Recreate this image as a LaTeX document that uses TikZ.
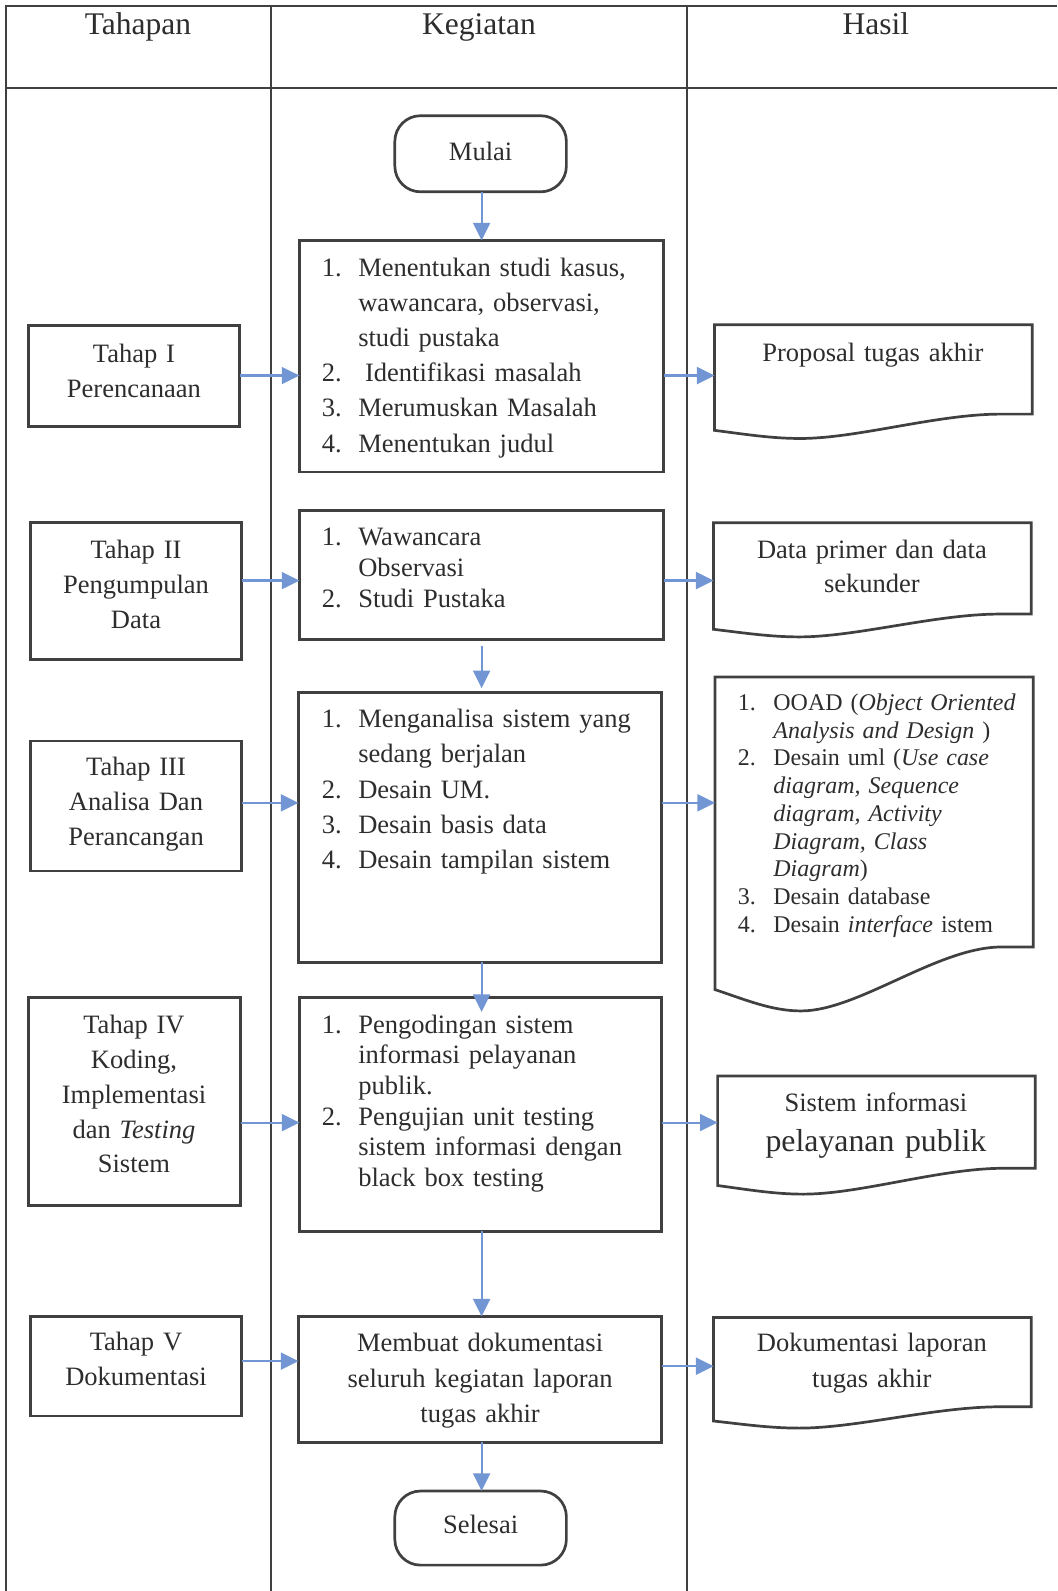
\documentclass[tikz,border=0pt]{standalone}
\usepackage{fontspec}
\setmainfont{Liberation Serif}
\usetikzlibrary{arrows.meta,fit,calc}
\definecolor{textc}{RGB}{45,45,45}
\definecolor{linec}{RGB}{64,64,64}
\definecolor{arrowc}{RGB}{114,150,212}
\newcommand\numbx[1]{\makebox[27pt][l]{#1}}
\newcommand\kin{\hspace*{27pt}}
\newcommand\numbh[1]{\makebox[26.25pt][l]{#1}}
\newcommand\kinh{\hspace*{26.25pt}}
\newcommand\docoutline[2]{%
  \draw[docline] (#1.south east) -- (#1.north east) -- (#1.north west) -- ($(#1.south west)+(0,#2)$)
  .. controls ($(#1.south west)!0.1!(#1.south east)+(0,1.25*#2)$) and ($(#1.south west)!0.18!(#1.south east)+(0,1.5*#2)$) .. ($(#1.south west)!0.27!(#1.south east)+(0,1.5*#2)$)
  .. controls ($(#1.south west)!0.45!(#1.south east)+(0,1.5*#2)$) and ($(#1.south west)!0.7!(#1.south east)$) .. ($(#1.south west)!0.9!(#1.south east)$) -- cycle;}
\begin{document}
\begin{tikzpicture}[x=0.75pt,y=-0.75pt,
  tline/.style={draw=linec,line width=1.3pt},
  boxst/.style={draw=linec,line width=2pt,inner sep=0pt,outer sep=0pt},
  docline/.style={draw=linec,line width=2pt,line join=miter},
  termst/.style={boxst,rounded corners=19pt},
  docarea/.style={inner sep=0pt,outer sep=0pt},
  txt/.style={inner sep=0pt,outer sep=0pt,text=textc,font=\fontsize{19.6}{26}\selectfont},
  ctext/.style={txt,anchor=base,align=center},
  ltext/.style={txt,anchor=base west,align=left,text width=240pt},
  hdtext/.style={txt,anchor=base,font=\fontsize{23.3}{27}\selectfont},
  arr/.style={draw=arrowc,line width=1.6pt,-{Triangle[length=13pt,width=12.5pt]}}
]
\useasboundingbox (0,0) rectangle (1041.4,1567.5);
% table
\draw[tline] (6,1567.5) -- (6,6) -- (1041.4,6);
\draw[tline] (6,87) -- (1041.4,87);
\draw[tline] (267,6) -- (267,1567.5);
\draw[tline] (677,6) -- (677,1567.5);
\node[hdtext] (hd1) at (136,34) {Tahapan};
\node[hdtext] (hd2) at (472,34) {Kegiatan};
\node[hdtext] (hd3) at (863,34) {Hasil};

% Tahapan boxes
\node[boxst,fit={(28,321)(236,420)}] (t1) {};
\node[boxst,fit={(30,515)(238,650)}] (t2) {};
\node[boxst,fit={(30,730)(238,858)}] (t3) {};
\node[boxst,fit={(28,983)(237,1188)}] (t4) {};
\node[boxst,fit={(30,1297)(238,1395)}] (t5) {};
\node[ctext,text width=150pt,font=\fontsize{19.6}{25.8}\selectfont] (t1x) at (132,357) {Tahap I\\Perencanaan};
\node[ctext,text width=150pt,font=\fontsize{19.6}{25.8}\selectfont] (t2x) at (134,550) {Tahap II\\Pengumpulan\\Data};
\node[ctext,text width=150pt,font=\fontsize{19.6}{25.8}\selectfont] (t3x) at (134,764) {Tahap III\\Analisa Dan\\Perancangan};
\node[ctext,text width=150pt,font=\fontsize{19.6}{25.8}\selectfont] (t4x) at (132,1018) {Tahap IV\\Koding,\\Implementasi\\dan \textit{Testing}\\Sistem};
\node[ctext,text width=150pt,font=\fontsize{19.6}{25.8}\selectfont] (t5x) at (134,1331) {Tahap V\\Dokumentasi};

% Kegiatan boxes
\node[termst,fit={(389,114)(558,189)}] (start) {};
\node[ctext] (startx) at (473.5,158) {Mulai};
\node[boxst,fit={(295,237)(654,465)}] (k1) {};
\node[boxst,fit={(295,503)(654,630)}] (k2) {};
\node[boxst,fit={(294,682)(652,948)}] (k3) {};
\node[boxst,fit={(295,983)(652,1213)}] (k4) {};
\node[boxst,fit={(294,1297)(652,1421)}] (k5) {};
\node[termst,fit={(389,1469)(558,1542)}] (stop) {};
\node[ctext] (stopx) at (473.5,1511) {Selesai};

\node[ltext] (k1x) at (317,272) {\numbx{1.}Menentukan studi kasus,\\ \kin wawancara, observasi,\\ \kin studi pustaka\\ \numbx{2.}\hspace{5pt}Identifikasi masalah\\ \numbx{3.}Merumuskan Masalah\\ \numbx{4.}Menentukan judul};
\node[ltext,font=\fontsize{19.6}{23.25}\selectfont] (k2x) at (317,537) {\numbx{1.}Wawancara\\ \kin Observasi\\ \numbx{2.}Studi Pustaka};
\node[ltext] (k3x) at (317,717) {\numbx{1.}Menganalisa sistem yang\\ \kin sedang berjalan\\ \numbx{2.}Desain UM.\\ \numbx{3.}Desain basis data\\ \numbx{4.}Desain tampilan sistem};
\node[ltext,font=\fontsize{19.6}{22.65}\selectfont] (k4x) at (317,1018) {\numbx{1.}Pengodingan sistem\\ \kin informasi pelayanan\\ \kin publik.\\ \numbx{2.}Pengujian unit testing\\ \kin sistem informasi dengan\\ \kin black box testing};
\node[ctext,text width=255pt,font=\fontsize{19.6}{25.9}\selectfont] (k5x) at (473,1332) {Membuat dokumentasi\\seluruh kegiatan laporan\\tugas akhir};

% Hasil documents
\node[docarea,fit={(704,320)(1017,408)}] (h1) {};
\node[docarea,fit={(703,515)(1016,605)}] (h2) {};
\node[docarea,fit={(704.5,667)(1018,933)}] (h3) {};
\node[docarea,fit={(707,1060)(1020,1151)}] (h4) {};
\node[docarea,fit={(703,1298)(1016,1386)}] (h5) {};
\docoutline{h1}{16}
\docoutline{h2}{15}
\docoutline{h3}{42}
\docoutline{h4}{17}
\docoutline{h5}{14}

\node[ctext,text width=230pt] (h1x) at (860,356) {Proposal tugas akhir};
\node[ctext,text width=230pt,font=\fontsize{19.6}{25.5}\selectfont] (h2x) at (859,550) {Data primer dan data\\sekunder};
\node[ltext,text width=235pt,font=\fontsize{17.7}{20.5}\selectfont] (h3x) at (727,700) {\numbh{1.}OOAD (\textit{Object Oriented}\\ \kinh\textit{Analysis and Design} )\\ \numbh{2.}Desain uml (\textit{Use case}\\ \kinh\textit{diagram, Sequence}\\ \kinh\textit{diagram, Activity}\\ \kinh\textit{Diagram, Class}\\ \kinh\textit{Diagram})\\ \numbh{3.}Desain database\\ \numbh{4.}Desain \textit{interface} istem};
\node[ctext,text width=230pt] (h4x) at (863,1095) {Sistem informasi};
\node[ctext,text width=230pt,font=\fontsize{23.5}{28}\selectfont] (h4y) at (863,1134) {pelayanan publik};
\node[ctext,text width=230pt,font=\fontsize{19.6}{26.25}\selectfont] (h5x) at (859,1332) {Dokumentasi laporan\\tugas akhir};

% connector rows
\coordinate (r1) at (0,370);
\coordinate (r2) at (0,572);
\coordinate (r3) at (0,791);
\coordinate (r4) at (0,1106);
\coordinate (r5) at (0,1341);
\coordinate (r5b) at (0,1346);
\coordinate (cx) at (474.5,0);
\coordinate (k4in) at ($(k4.north -| cx)+(0,14)$);

\draw[arr] (t1.east |- r1) -- (k1.west |- r1);
\draw[arr] (t2.east |- r2) -- (k2.west |- r2);
\draw[arr] (t3.east |- r3) -- (k3.west |- r3);
\draw[arr] (t4.east |- r4) -- (k4.west |- r4);
\draw[arr] (t5.east |- r5) -- (k5.west |- r5);

\draw[arr] (k1.east |- r1) -- (h1.west |- r1);
\draw[arr] (k2.east |- r2) -- (h2.west |- r2);
\draw[arr] (k3.east |- r3) -- (h3.west |- r3);
\draw[arr] (k4.east |- r4) -- (h4.west |- r4);
\draw[arr] (k5.east |- r5b) -- (h5.west |- r5b);

\draw[arr] (start.south -| cx) -- (k1.north -| cx);
\draw[arr,shorten <=5pt,shorten >=3pt] (k2.south -| cx) -- (k3.north -| cx);
\draw[arr] (k3.south -| cx) -- (k4in);
\draw[arr] (k4.south -| cx) -- (k5.north -| cx);
\draw[arr] (k5.south -| cx) -- (stop.north -| cx);
\end{tikzpicture}
\end{document}
